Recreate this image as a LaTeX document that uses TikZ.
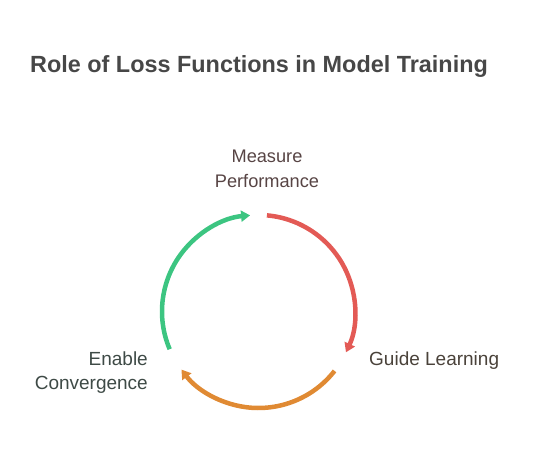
\documentclass[tikz,border=0pt]{standalone}
\usepackage{fontspec}
\setmainfont{Liberation Sans}
\usetikzlibrary{arrows.meta}
\definecolor{titlegray}{HTML}{474747}
\definecolor{redarc}{HTML}{E35A55}
\definecolor{orangearc}{HTML}{E08A33}
\definecolor{greenarc}{HTML}{3CC581}
\definecolor{textbrown}{HTML}{574444}
\definecolor{textdark}{HTML}{4A423A}
\definecolor{textgreen}{HTML}{3E4A46}
\tikzset{
  cyclearc/.style={line width=4.5pt,-{Triangle[length=9pt,width=11pt]}},
  steplabel/.style={font=\fontsize{19}{24.5}\selectfont,align=center,inner sep=0pt}
}
\begin{document}
\begin{tikzpicture}[x=1pt,y=1pt]
            \useasboundingbox (0,0) rectangle (534,460);
            \node[font=\bfseries\fontsize{23.4}{28}\selectfont,text=titlegray,anchor=west,inner sep=0pt] (title) at (30,393) {Role of Loss Functions in Model Training};
            \coordinate (c) at (258.5,148.5);
            \node[font=\fontsize{18.2}{24.5}\selectfont,align=center,inner sep=0pt,text=textbrown] (measure) at (267,291) {Measure\\Performance};
            \node[steplabel,text=textdark,anchor=west] (guide) at (369,99.5) {Guide Learning};
            \node[steplabel,text=textgreen,align=right,anchor=east] (enable) at (148,87.5) {Enable\\Convergence};
            \draw[cyclearc,redarc] (c) ++(85:96.5) arc[start angle=85,end angle=-25,radius=96.5];      % measure -> guide
            \draw[cyclearc,orangearc] (c) ++(-38:96.5) arc[start angle=-38,end angle=-143,radius=96.5]; % guide -> enable
            \draw[cyclearc,greenarc] (c) ++(203:96.5) arc[start angle=203,end angle=95,radius=96.5];    % enable -> measure
        \end{tikzpicture}
\end{document}
